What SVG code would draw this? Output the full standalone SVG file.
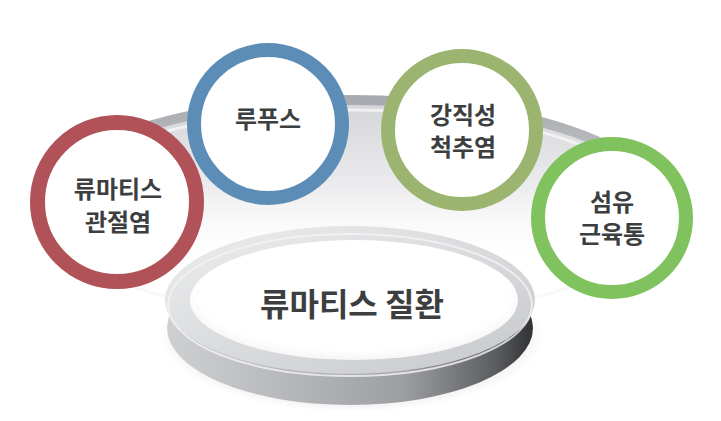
<svg xmlns="http://www.w3.org/2000/svg" width="721" height="421" viewBox="0 0 721 421">
<defs>
<style>
.lbl{font-family:"Noto Sans CJK KR","Noto Sans",sans-serif;font-weight:700;fill:#3d3e40;text-anchor:middle}
.c{font-size:24px}
.ring{fill:#ffffff}
</style>
<linearGradient id="bgFill" x1="0" y1="0" x2="0" y2="1">
<stop offset="0" stop-color="#d3d4d7"/>
<stop offset="0.4" stop-color="#ececee"/>
<stop offset="0.75" stop-color="#ffffff" stop-opacity="0"/>
</linearGradient>
<linearGradient id="bgRim" x1="0" y1="0" x2="0" y2="1">
<stop offset="0" stop-color="#a7aaae"/>
<stop offset="0.35" stop-color="#c4c6c9"/>
<stop offset="0.7" stop-color="#e8e8ea" stop-opacity="0"/>
</linearGradient>
<linearGradient id="side" x1="0" y1="0" x2="1" y2="0">
<stop offset="0" stop-color="#cfd0d2"/>
<stop offset="0.35" stop-color="#b4b6b9"/>
<stop offset="0.65" stop-color="#9c9ea1"/>
<stop offset="0.9" stop-color="#5a5c5f"/>
<stop offset="1" stop-color="#2f3133"/>
</linearGradient>
<linearGradient id="topRim" x1="0" y1="0" x2="1" y2="1">
<stop offset="0" stop-color="#eceded"/>
<stop offset="0.5" stop-color="#dadbdd"/>
<stop offset="1" stop-color="#c6c8cb"/>
</linearGradient>
<radialGradient id="inner" cx="0.5" cy="0.45" r="0.6">
<stop offset="0.78" stop-color="#ffffff"/>
<stop offset="1" stop-color="#f0f0f1"/>
</radialGradient>
<radialGradient id="shadow" cx="0.5" cy="0.5" r="0.5">
<stop offset="0.75" stop-color="#000" stop-opacity="0.12"/>
<stop offset="1" stop-color="#000" stop-opacity="0"/>
</radialGradient>
</defs>
<rect width="721" height="421" fill="#ffffff"/>
<g id="background-disc">
<ellipse cx="352" cy="210" rx="318" ry="112" fill="url(#bgFill)"/>
<ellipse cx="352" cy="208" rx="312" ry="108" fill="none" stroke="url(#bgRim)" stroke-width="10"/>
<ellipse cx="352" cy="214" rx="306" ry="104" fill="none" stroke="#f6f6f7" stroke-width="3" stroke-opacity="0.8"/>
</g>
<g id="platform">
<ellipse cx="352" cy="336" rx="192" ry="76" fill="url(#shadow)"/>
<ellipse cx="350" cy="328" rx="183" ry="77" fill="url(#side)"/>
<ellipse cx="350" cy="300" rx="185" ry="74" fill="url(#topRim)"/>
<ellipse cx="350" cy="305" rx="182" ry="71" fill="none" stroke="#f4f4f5" stroke-width="2" stroke-opacity="0.8"/>
<ellipse cx="354" cy="300" rx="164" ry="60" fill="url(#inner)"/>
<text class="lbl" x="352" y="316" font-size="32">류마티스 질환</text>
</g>
<g id="node-ra">
<circle class="ring" cx="117" cy="202" r="79.5" stroke="#b05257" stroke-width="15"/>
<text class="lbl c" x="118" y="198">류마티스</text>
<text class="lbl c" x="118" y="231">관절염</text>
</g>
<g id="node-lupus">
<circle class="ring" cx="268" cy="124" r="74" stroke="#5b8db7" stroke-width="14"/>
<text class="lbl c" x="268" y="128">루푸스</text>
</g>
<g id="node-as">
<circle class="ring" cx="462" cy="130" r="74" stroke="#9bb570" stroke-width="14"/>
<text class="lbl c" x="463" y="124">강직성</text>
<text class="lbl c" x="463" y="156">척추염</text>
</g>
<g id="node-fm">
<circle class="ring" cx="612" cy="218" r="74" stroke="#80c35e" stroke-width="14"/>
<text class="lbl c" x="612" y="211">섬유</text>
<text class="lbl c" x="612" y="243">근육통</text>
</g>
<g id="connectors"/>
</svg>
